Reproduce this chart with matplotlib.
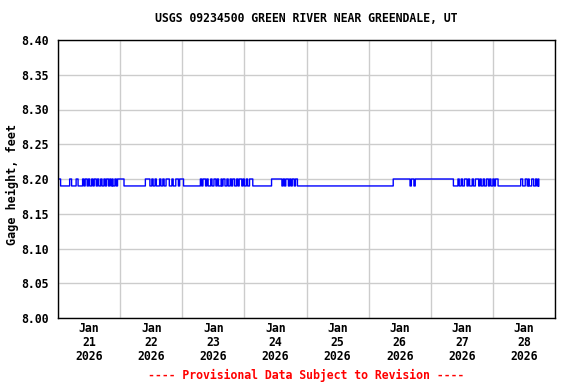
import matplotlib
matplotlib.use("Agg")
import matplotlib.pyplot as plt
import matplotlib.dates as mdates
import numpy as np
import pandas as pd

title = "USGS 09234500 GREEN RIVER NEAR GREENDALE, UT"
footer = "---- Provisional Data Subject to Revision ----"
ylabel = "Gage height, feet"
start = pd.Timestamp("2026-01-21 00:00")
end_hours = 185.75          # last reading, hours after start
low_level = 8.19
high_level = 8.20

# spans (hours after Jan 21 00:00) where gage read 8.20 ft, otherwise 8.19
high_spans = [
    (0.0, 1.0), (4.5, 5.25), (7.0, 7.75),
    (9.5, 10.0), (10.5, 11.25), (11.75, 12.25), (13.0, 13.5), (14.0, 14.75),
    (15.25, 15.75), (16.5, 17.0), (17.75, 18.25), (18.75, 19.5), (20.0, 20.5),
    (21.0, 21.25), (22.0, 22.5), (23.0, 25.5),
    (33.75, 35.5), (36.25, 36.75), (37.5, 38.0), (39.25, 39.75), (40.5, 41.0),
    (41.75, 43.0), (44.0, 44.5), (45.5, 46.5), (47.0, 48.5),
    (55.0, 55.5), (56.0, 57.0), (57.5, 58.0), (59.0, 59.5), (60.25, 61.0),
    (61.5, 62.0), (63.0, 63.25), (63.75, 64.5), (65.25, 65.75), (66.5, 67.0),
    (67.5, 68.25), (69.0, 69.5), (70.0, 71.0), (71.5, 72.0), (72.75, 73.25),
    (74.0, 75.25),
    (82.5, 86.5), (87.0, 87.5), (88.0, 89.0), (89.5, 90.0), (90.5, 91.25),
    (91.75, 92.5),
    (129.5, 136.0), (136.5, 137.5), (138.0, 152.75),
    (154.5, 155.0), (155.75, 156.25), (157.0, 158.0), (158.5, 159.0),
    (160.0, 160.5), (161.25, 162.5), (163.0, 163.5), (164.25, 164.75),
    (165.5, 166.25), (166.75, 167.25), (168.0, 168.5), (169.0, 170.0),
    (178.75, 179.5), (180.5, 181.25), (181.75, 182.0), (183.0, 183.75),
    (184.5, 185.0), (185.5, 185.75),
]

# build 15-minute series from the spans
hrs = np.arange(0, end_hours + 0.01, 0.25)
vals = np.full(len(hrs), low_level)
for a, b in high_spans:
    vals[(hrs >= a) & (hrs < b)] = high_level
times = start + pd.to_timedelta(hrs, unit="h")

font = "DejaVu Sans Mono"
fig = plt.figure(figsize=(5.76, 3.84), dpi=100)
fig.patch.set_facecolor("white")
ax = fig.add_axes([58 / 576, 1 - 318 / 384, 497 / 576, 278 / 384])

ax.step(times, vals, where="post", color="#0000ff", lw=1.0)

ax.set_xlim(start, start + pd.Timedelta(days=8))
ax.set_ylim(8.0, 8.4)
yt = np.arange(8.0, 8.401, 0.05)
ax.set_yticks(yt)
ax.set_yticklabels(["%.2f" % v for v in yt],
                   fontfamily=font, fontweight="bold", fontsize=8.3)

ax.xaxis.set_major_locator(mdates.DayLocator())
ax.xaxis.set_major_formatter(plt.NullFormatter())
ax.xaxis.set_minor_locator(mdates.HourLocator(byhour=[12]))
ax.xaxis.set_minor_formatter(mdates.DateFormatter("%b\n%d\n%Y"))
ax.tick_params(axis="both", which="both", length=0)
ax.tick_params(axis="y", pad=7)
ax.tick_params(axis="x", which="minor", pad=3)
fig.canvas.draw()
for lab in ax.get_xticklabels(minor=True):
    lab.set_fontfamily(font)
    lab.set_fontweight("bold")
    lab.set_fontsize(8.3)
    lab.set_linespacing(1.08)

ax.grid(True, which="major", color="#cccccc", lw=1)
ax.set_axisbelow(True)
for s in ax.spines.values():
    s.set_color("black")
    s.set_linewidth(1)

fig.text(12 / 576, 1 - 184 / 384, ylabel, ha="center", va="center",
         rotation=90, fontfamily=font, fontweight="bold", fontsize=8.5)
fig.text(306 / 576, 1 - 19 / 384, title, ha="center", va="center",
         fontfamily=font, fontweight="bold", fontsize=8.3)
fig.text(306 / 576, 1 - 375 / 384, footer, ha="center", va="center",
         fontfamily=font, fontweight="bold", fontsize=8.3, color="red")

fig.savefig("out.png", dpi=100)
